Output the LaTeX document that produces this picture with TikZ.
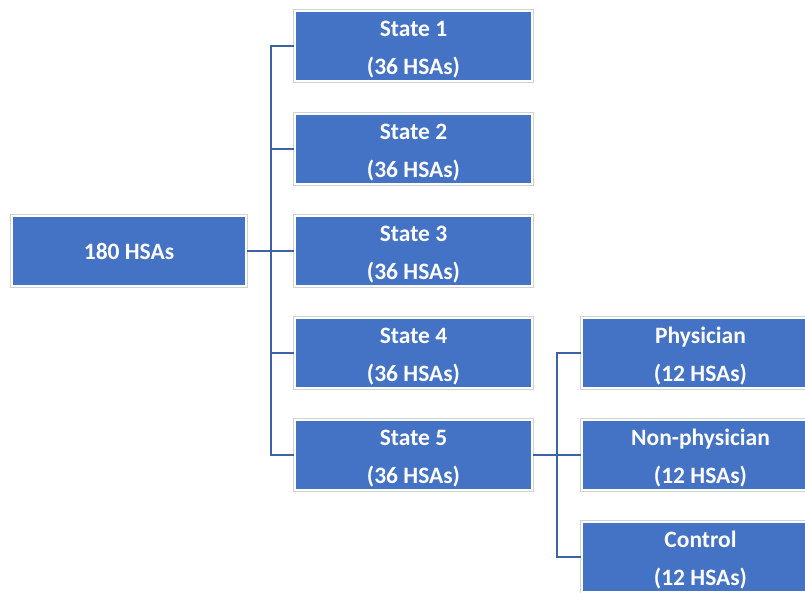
\documentclass[tikz,border=0pt]{standalone}
\usepackage{fontspec}
\setmainfont{Carlito}
\definecolor{boxblue}{HTML}{4472C4}
\definecolor{linkblue}{HTML}{3E62A6}
\newcommand{\topstrut}{\rule{0pt}{23pt}}
\begin{document}
\begin{tikzpicture}[x=1pt,y=-1pt,
  hbox/.style={fill=boxblue, draw=white, line width=1.5pt,
    preaction={draw=black!18, line width=3.5pt},
    minimum width=237pt, minimum height=70pt, inner sep=0pt,
    text=white, align=center, font=\fontsize{23.5}{38}\selectfont\bfseries},
  link/.style={draw=linkblue, line width=2.2pt}]
\useasboundingbox (0,0) rectangle (805,592);
\clip (0,0) rectangle (805,592);
\node[hbox, minimum width=234pt] (root) at (129,251) {180 HSAs};
\node[hbox] (s1) at (413.5,46) {\topstrut State 1\\(36 HSAs)};
\node[hbox] (s2) at (413.5,149) {\topstrut State 2\\(36 HSAs)};
\node[hbox] (s3) at (413.5,251) {\topstrut State 3\\(36 HSAs)};
\node[hbox] (s4) at (413.5,353) {\topstrut State 4\\(36 HSAs)};
\node[hbox] (s5) at (413.5,455) {\topstrut State 5\\(36 HSAs)};
\node[hbox] (p) at (700.5,353) {\topstrut Physician\\(12 HSAs)};
\node[hbox] (n) at (700.5,455) {\topstrut Non-physician\\(12 HSAs)};
\node[hbox] (c) at (700.5,557) {\topstrut Control\\(12 HSAs)};
\coordinate (j1) at (271,251);
\coordinate (j2) at (557,455);
\draw[link] (root.east) -- (j1);
\foreach \s in {s1,s2,s3,s4,s5} \draw[link] (\s.west) -| (j1);
\draw[link] (s5.east) -- (j2);
\foreach \s in {p,n,c} \draw[link] (\s.west) -| (j2);
\end{tikzpicture}
\end{document}
